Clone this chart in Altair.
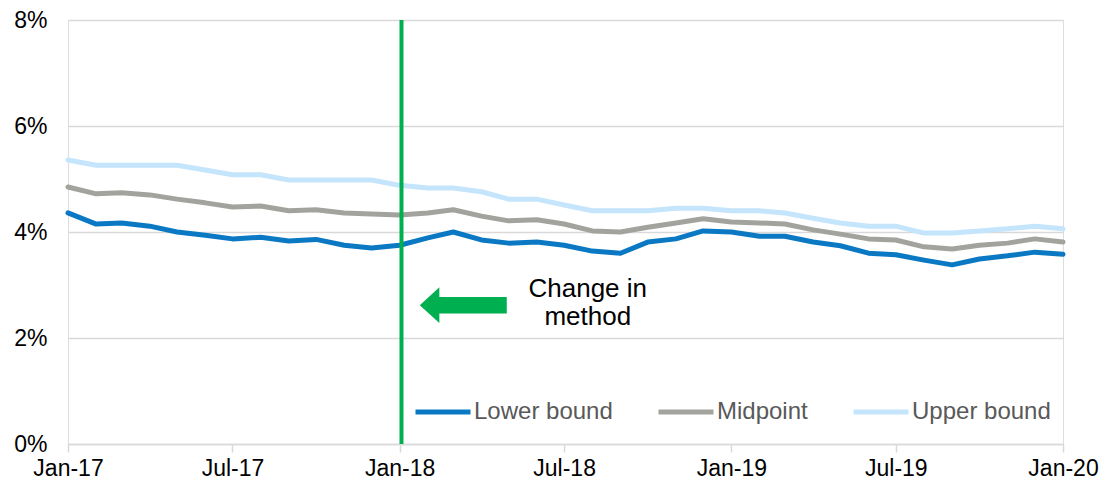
import altair as alt
import pandas as pd

# ---- data ----
months = [d.strftime("%Y-%m-%dT00:00:00") for d in pd.date_range("2017-01-01", "2020-01-01", freq="MS")]
series_names = ["Lower bound", "Midpoint", "Upper bound"]
series_colors = ["#0a78c2", "#a3a39e", "#c4e5fc"]

lower = [4.36, 4.15, 4.17, 4.11, 4.00, 3.94, 3.87, 3.90, 3.83, 3.86, 3.75, 3.70,
         3.75, 3.89, 4.00, 3.85, 3.79, 3.81, 3.75, 3.64, 3.60, 3.81, 3.87, 4.02,
         4.00, 3.92, 3.92, 3.81, 3.74, 3.60, 3.57, 3.47, 3.38, 3.49, 3.55, 3.62,
         3.58]
mid = [4.85, 4.72, 4.74, 4.70, 4.62, 4.55, 4.47, 4.49, 4.40, 4.42, 4.36, 4.34,
       4.32, 4.36, 4.42, 4.30, 4.21, 4.23, 4.15, 4.02, 4.00, 4.09, 4.17, 4.25,
       4.19, 4.17, 4.15, 4.04, 3.96, 3.87, 3.85, 3.72, 3.68, 3.75, 3.79, 3.87,
       3.81]
upper = [5.36, 5.26, 5.26, 5.26, 5.26, 5.17, 5.08, 5.08, 4.98, 4.98, 4.98, 4.98,
         4.88, 4.83, 4.83, 4.76, 4.62, 4.62, 4.51, 4.40, 4.40, 4.40, 4.45, 4.45,
         4.40, 4.40, 4.36, 4.26, 4.17, 4.11, 4.11, 3.98, 3.98, 4.02, 4.06, 4.11,
         4.06]

x_tick_dates = ["2017-01-01T00:00:00", "2017-07-01T00:00:00", "2018-01-01T00:00:00",
                "2018-07-01T00:00:00", "2019-01-01T00:00:00", "2019-07-01T00:00:00",
                "2020-01-01T00:00:00"]
y_ticks = [0, 2, 4, 6, 8]

change_date = ["2018-01-03T00:00:00"]
arrow_pos = {"date": ["2018-03-12T00:00:00"], "value": [2.62]}
note_lines = ["Change in", "method"]
note_dates = ["2018-07-27T00:00:00", "2018-07-27T00:00:00"]
note_values = [2.77, 2.24]

FONT = "Liberation Sans"

rows = []
for name, vals in zip(series_names, [lower, mid, upper]):
    for d, v in zip(months, vals):
        rows.append({"date": d, "value": v, "series": name})
df = pd.DataFrame(rows)

x_scale = alt.Scale(domain=[months[0], months[-1]], nice=False)
y_scale = alt.Scale(domain=[0, 8], nice=False)

x_enc = alt.X("date:T", scale=x_scale,
              axis=alt.Axis(values=x_tick_dates, format="%b-%y", title=None, grid=False,
                            domainColor="#d9d9d9", domainWidth=1.5, tickColor="#d9d9d9",
                            tickSize=8, tickWidth=1.5, labelPadding=5, labelFontSize=23,
                            labelFont=FONT, labelColor="#000000", labelFlush=False,
                            labelOverlap=False))
y_enc = alt.Y("value:Q", scale=y_scale,
              axis=alt.Axis(values=y_ticks, labelExpr="datum.value + '%'", title=None,
                            grid=True, gridColor="#d9d9d9", gridWidth=1.5, domain=False,
                            ticks=False, labelPadding=21, labelFontSize=23, labelFont=FONT,
                            labelColor="#000000"))

lines = alt.Chart(df).mark_line(strokeWidth=5, strokeCap="round", strokeJoin="round").encode(
    x=x_enc,
    y=y_enc,
    color=alt.Color("series:N",
                    scale=alt.Scale(domain=series_names, range=series_colors),
                    sort=series_names,
                    legend=alt.Legend(title=None, orient="none", direction="horizontal",
                                      legendX=345, legendY=362, symbolType="stroke",
                                      symbolSize=3025, symbolStrokeWidth=5,
                                      labelFontSize=24, labelFont=FONT,
                                      labelColor="#595959", labelOffset=1,
                                      columnPadding=35, padding=0)),
)

rule = alt.Chart(pd.DataFrame({"date": change_date})).mark_rule(
    color="#00b050", strokeWidth=4).encode(
    x=alt.X("date:T", scale=x_scale),
    y=alt.value(0), y2=alt.value(424))

arrow_path = "M -1 0 L -0.55 -0.41 L -0.55 -0.19 L 1 -0.19 L 1 0.19 L -0.55 0.19 L -0.55 0.41 Z"
arrow = alt.Chart(pd.DataFrame(arrow_pos)).mark_point(
    shape=arrow_path, size=7569, filled=True, color="#00b050", opacity=1, strokeWidth=0).encode(
    x=alt.X("date:T", scale=x_scale),
    y=alt.Y("value:Q", scale=y_scale))

note = alt.Chart(pd.DataFrame({"date": note_dates, "value": note_values, "t": note_lines})).mark_text(
    font=FONT, fontSize=26, color="#000000", align="center", baseline="alphabetic").encode(
    x=alt.X("date:T", scale=x_scale),
    y=alt.Y("value:Q", scale=y_scale),
    text="t:N")

chart = alt.layer(lines, rule, arrow, note).properties(
    width=995, height=424,
    autosize=alt.AutoSizeParams(type="none"),
    padding={"left": 60, "top": 12, "right": 38, "bottom": 36},
).configure_view(strokeWidth=0, stroke="transparent").configure(background="white"
).configure_axisX(grid=False).configure_axisY(domain=False, ticks=False)

chart.save("out.html", embed_options={"renderer": "svg", "actions": False})
